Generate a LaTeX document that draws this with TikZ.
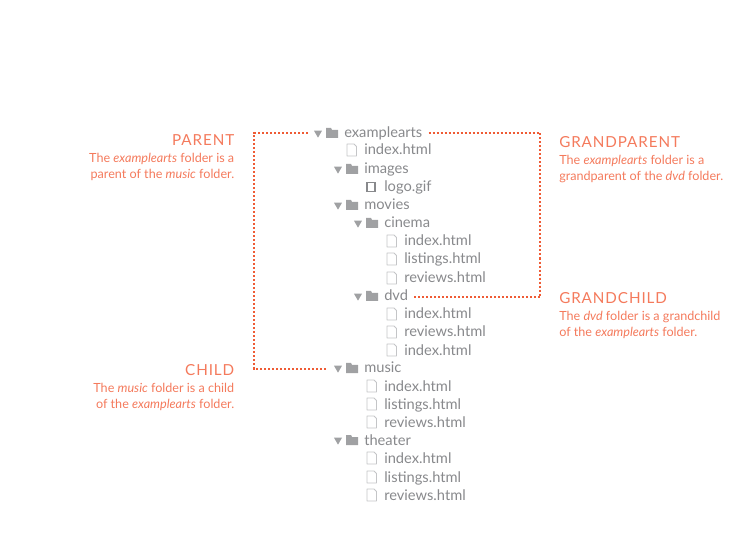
\documentclass[tikz,border=0pt]{standalone}
\usepackage{fontspec}
\setmainfont{Lato}
\newfontfamily\headfont[LetterSpace=6]{Lato}
\usetikzlibrary{positioning}
\usetikzlibrary{shapes.geometric}
\definecolor{treegray}{HTML}{88898C}
\definecolor{iconline}{HTML}{C4C5C7}
\definecolor{linkred}{HTML}{EF5B35}
\definecolor{notered}{HTML}{F47A5C}
\tikzset{
	treelabel/.style={anchor=base west,inner sep=0pt,text=treegray,font=\fontsize{11pt}{12pt}\selectfont},
	treearrow/.style={regular polygon,regular polygon sides=3,shape border rotate=180,fill=treegray!80,inner sep=0pt,minimum size=7pt},
	folderfill/.style={fill=treegray!80},
	filebox/.style={draw=iconline,fill=white,line width=0.6pt,line join=round},
	linkline/.style={draw=linkred,line width=2.1pt,dash pattern=on 1.5pt off 1.5pt},
	notehead/.style={inner sep=0pt,text=notered,font=\headfont\fontsize{11.4pt}{13pt}\selectfont},
	notebody/.style={inner sep=0pt,text=notered,font=\fontsize{9.45pt}{12pt}\selectfont},
}
\begin{document}
\begin{tikzpicture}[x=0.75pt,y=-0.75pt]
	\useasboundingbox (0,0) rectangle (752,555);
	% folders
	\foreach \nm/\x/\y/\lbl in {examplearts/344/133/examplearts,images/364/169/images,movies/364/205/movies,cinema/384/223/cinema,dvd/384/296/dvd,music/364/368/music,theater/364/440/theater}{
		\begin{scope}[shift={(\x,\y)}]
			\node[treelabel] (\nm) at (0,5) {\lbl};
			\node[treearrow] (\nm-arrow) at (-26,0) {};
			\fill[folderfill] (-18,5) -- (-18,-5) -- (-13,-5) -- (-12,-3) -- (-6,-3) -- (-6,5) -- cycle;
		\end{scope}
	}
	% files
	\foreach \nm/\x/\y/\lbl in {f1/364/150/index.html,f2/404/241/index.html,f3/404/259/listings.html,f4/404/278/reviews.html,f5/404/314/index.html,f6/404/332/reviews.html,f7/404/350/index.html,f8/384/386/index.html,f9/384/404/listings.html,f10/384/422/reviews.html,f11/384/458/index.html,f12/384/477/listings.html,f13/384/495/reviews.html}{
		\begin{scope}[shift={(\x,\y)}]
			\node[treelabel] (\nm) at (0,5) {\lbl};
			\draw[filebox] (-17,-6) -- (-10,-6) -- (-7.5,-3.5) -- (-7.5,6) -- (-17,6) -- cycle;
		\end{scope}
	}
	\node[treelabel] (logo) at (384,192) {logo.gif};
	\draw[treegray,line width=1.2pt] (367,182.5) rectangle (375,191.5);
	% connectors
	\coordinate (parentcorner) at (254,133);
	\coordinate (childcorner) at (254,369);
	\coordinate (grandcorner) at (540,133);
	\coordinate (dvdcorner) at (540,297);
	\draw[linkline] ([xshift=-5.5pt]examplearts-arrow.west |- parentcorner) -- (parentcorner) -- (childcorner) -- ([xshift=-5.5pt]music-arrow.west |- childcorner);
	\draw[linkline] ([xshift=4.5pt]examplearts.east |- grandcorner) -- (grandcorner) -- (dvdcorner) -- ([xshift=4.5pt]dvd.east |- dvdcorner);
	% notes on the left
	\node[notehead,anchor=base east] (parent) at (234.5,146) {PARENT};
	\node[notebody,align=right,below=5.2pt of parent.south east,anchor=north east] (parentnote) {The \textit{examplearts} folder is a\\parent of the \textit{music} folder.};
	\node[notehead,anchor=base east] (child) at (234.5,375.5) {CHILD};
	\node[notebody,align=right,below=5.2pt of child.south east,anchor=north east] (childnote) {The \textit{music} folder is a child\\of the \textit{examplearts} folder.};
	% notes on the right
	\node[notehead,anchor=base west] (grandparent) at (559,148) {GRANDPARENT};
	\node[notebody,align=left,below=5.2pt of grandparent.south west,anchor=north west] (grandparentnote) {The \textit{examplearts} folder is a\\grandparent of the \textit{dvd} folder.};
	\node[notehead,anchor=base west] (grandchild) at (559,304) {GRANDCHILD};
	\node[notebody,align=left,below=5.2pt of grandchild.south west,anchor=north west] (grandchildnote) {The \textit{dvd} folder is a grandchild\\of the \textit{examplearts} folder.};
\end{tikzpicture}
\end{document}
